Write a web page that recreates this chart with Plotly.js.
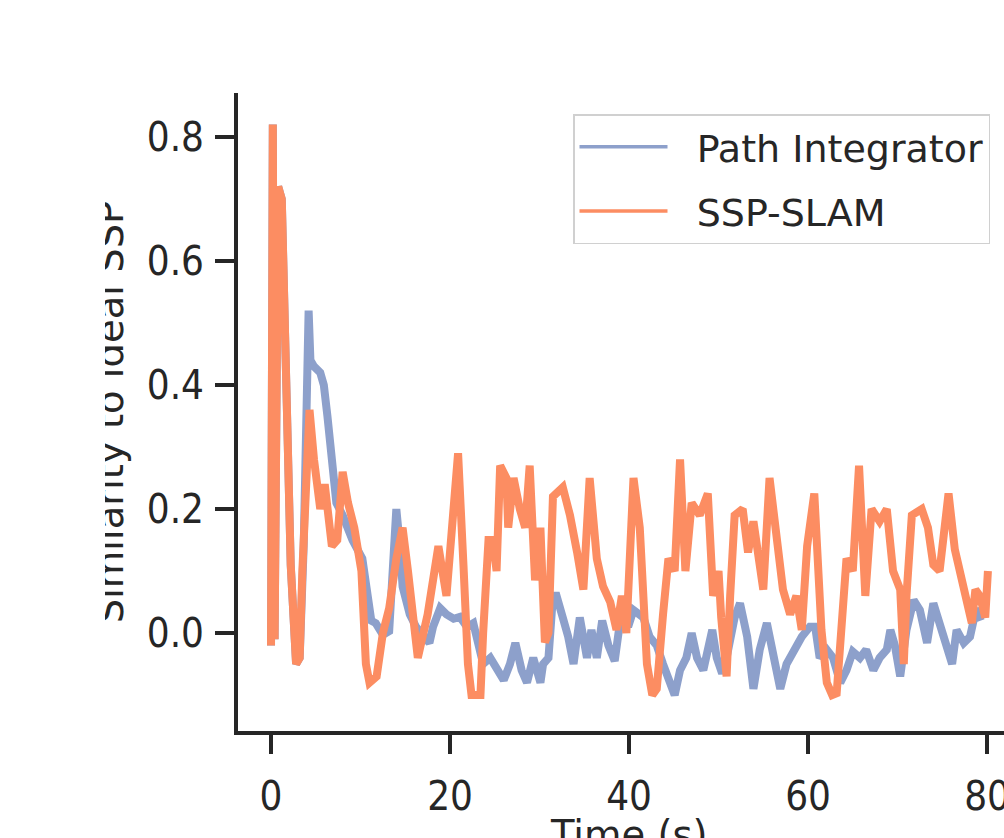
<!DOCTYPE html>
<html>
<head>
<meta charset="utf-8">
<script src="https://cdn.plot.ly/plotly-3.0.1.min.js"></script>
<style>
  html, body { margin: 0; padding: 0; width: 1004px; height: 838px; overflow: hidden; background: #ffffff; }
  #chart { position: absolute; left: 0; top: 0; clip-path: inset(0px 0px 0px 105px); }
</style>
</head>
<body>
<div id="chart"></div>
<script>
// ---- data ----
const seriesNames = ["Path Integrator", "SSP-SLAM"];

const piTime = [0.0,0.2,0.4,0.8,1.2,1.5,1.9,2.2,2.8,3.2,3.65,4.0,4.2,4.4,4.8,5.5,5.9,6.3,6.65,7.0,7.3,8.0,9.1,10.2,10.6,11.2,11.7,12.5,13.2,13.6,14.0,14.4,14.7,15.5,16.2,17.0,17.7,18.1,18.9,19.6,20.4,21.1,21.9,22.6,23.0,23.7,24.5,25.2,26.0,26.7,27.3,28.0,28.6,29.3,30.1,30.4,31.0,31.5,31.9,32.6,33.2,33.8,34.5,35.3,35.8,36.4,37.0,37.7,38.4,39.2,39.9,40.5,41.6,42.3,43.1,43.8,44.6,45.1,45.7,46.4,47.0,47.6,48.3,49.3,49.8,50.4,50.9,51.8,52.4,53.2,53.9,54.6,55.4,56.1,56.9,57.6,58.4,59.3,60.2,60.8,61.3,62.1,62.8,63.6,64.3,65.0,65.8,66.5,67.3,68.0,68.8,69.2,69.7,70.3,71.0,71.8,72.5,73.3,74.0,74.7,75.5,76.1,76.6,77.4,78.1,78.8,79.3];
const piValue = [-0.02,0.82,-0.01,0.72,0.70,0.50,0.28,0.11,-0.05,-0.04,0.14,0.45,0.52,0.44,0.43,0.42,0.40,0.35,0.30,0.25,0.21,0.19,0.15,0.12,0.075,0.02,0.016,-0.003,0.003,0.12,0.20,0.14,0.075,0.03,0.01,-0.003,-0.016,0.01,0.04,0.03,0.023,0.026,0.01,0.016,-0.006,-0.05,-0.04,-0.06,-0.076,-0.05,-0.016,-0.06,-0.08,-0.04,-0.08,-0.05,-0.04,0.06,0.06,0.025,-0.006,-0.05,0.025,-0.04,0.005,-0.04,0.02,-0.02,-0.045,0.04,0.01,0.037,0.025,-0.006,-0.02,-0.05,-0.08,-0.10,-0.06,-0.04,0.0,-0.04,-0.06,0.005,-0.04,-0.065,-0.04,0.025,0.048,-0.006,-0.09,-0.027,0.016,-0.04,-0.09,-0.05,-0.027,-0.006,0.01,0.01,-0.04,-0.027,-0.04,-0.08,-0.06,-0.03,-0.04,-0.027,-0.06,-0.04,-0.027,0.005,-0.02,-0.07,0.005,0.053,0.037,-0.016,0.048,0.016,-0.016,-0.05,0.005,-0.016,-0.006,0.04,0.02];

const slamTime = [0.0,0.2,0.4,0.8,1.2,1.5,1.9,2.2,2.8,3.2,3.5,4.0,4.3,4.8,5.5,6.0,6.8,7.4,8.0,8.6,9.3,10.1,10.6,11.0,11.8,12.5,13.2,14.0,14.7,15.3,16.4,17.5,18.7,19.6,20.2,20.9,21.5,22.0,22.4,23.4,23.7,24.3,24.8,25.2,25.6,26.3,26.5,27.1,27.8,28.4,28.9,29.5,30.1,30.6,31.0,31.5,32.6,33.4,34.2,34.9,35.6,36.4,37.1,37.9,38.6,39.2,39.7,40.5,41.2,41.6,42.0,42.6,43.1,43.8,44.4,45.1,45.7,46.3,47.0,47.9,48.8,49.4,50.0,50.3,50.9,51.3,51.8,52.7,53.3,53.9,54.6,55.0,55.7,56.5,57.2,58.0,58.7,59.3,59.9,60.7,61.1,61.5,62.1,62.7,63.2,63.8,64.3,65.0,65.7,66.4,67.1,68.0,68.8,69.5,70.3,70.7,71.0,71.6,72.7,73.4,74.0,74.7,75.7,76.4,77.2,77.7,78.3,78.7,79.2,79.8,80.1];
const slamValue = [-0.02,0.82,-0.01,0.72,0.70,0.50,0.28,0.11,-0.05,-0.04,0.10,0.30,0.36,0.28,0.20,0.24,0.14,0.15,0.26,0.21,0.17,0.10,-0.05,-0.08,-0.07,0.00,0.04,0.12,0.17,0.10,-0.04,0.03,0.14,0.06,0.18,0.29,0.11,-0.05,-0.10,-0.10,0.00,0.15,0.15,0.10,0.27,0.25,0.17,0.25,0.20,0.17,0.27,0.085,0.17,-0.015,0.00,0.22,0.235,0.19,0.13,0.07,0.25,0.12,0.075,0.05,0.005,0.06,0.00,0.25,0.17,0.06,-0.05,-0.10,-0.09,0.03,0.12,0.10,0.28,0.10,0.21,0.19,0.225,0.06,0.10,0.025,-0.07,0.06,0.19,0.20,0.13,0.18,0.10,0.07,0.25,0.14,0.07,0.03,0.06,0.005,0.14,0.225,0.11,0.005,-0.08,-0.10,-0.097,0.005,0.12,0.10,0.27,0.06,0.20,0.18,0.20,0.10,0.07,-0.05,0.06,0.19,0.20,0.17,0.11,0.10,0.225,0.135,0.09,0.06,0.016,0.07,0.06,0.025,0.10];

const xTickVals = [0, 20, 40, 60, 80];
const yTickVals = [0.0, 0.2, 0.4, 0.6, 0.8];
const xLabel = "Time (s)";
const yLabel = "Similarity to ideal SSP";

// ---- styling ----
const ink = "#262626";
const colors = ["#8da0cb", "#fc8d62"];
const tickFont = {family: "DejaVu Sans Condensed, DejaVu Sans, sans-serif", size: 40, color: ink};
const labelFont = {family: "DejaVu Sans, sans-serif", size: 38.5, color: ink};
const pad = "\u00a0\u00a0";

const traces = [
  // data lines
  {x: piTime, y: piValue, name: seriesNames[0], type: "scatter", mode: "lines",
   line: {color: colors[0], width: 8}, legendgroup: "a", showlegend: false},
  {x: slamTime, y: slamValue, name: seriesNames[1], type: "scatter", mode: "lines",
   line: {color: colors[1], width: 8}, legendgroup: "b", showlegend: false},
  // legend entries (thin line keys, no points)
  {x: [null], y: [null], name: pad + seriesNames[0], type: "scatter", mode: "lines",
   line: {color: colors[0], width: 3.5}, legendgroup: "a", showlegend: true},
  {x: [null], y: [null], name: pad + seriesNames[1], type: "scatter", mode: "lines",
   line: {color: colors[1], width: 3.5}, legendgroup: "b", showlegend: true}
];

const plotW = 800, ml = 238, mr = 20, mt = 93, plotH = 638, mb = 169;

const layout = {
  width: ml + plotW + mr,
  height: mt + plotH + mb,
  margin: {l: ml, r: mr, t: mt, b: mb, pad: 0},
  paper_bgcolor: "#ffffff",
  plot_bgcolor: "#ffffff",
  showlegend: true,
  legend: {
    x: (573 - ml) / plotW, xanchor: "left",
    y: (mt + plotH - 114) / plotH, yanchor: "top",
    bgcolor: "#ffffff", bordercolor: "#d0d0d0", borderwidth: 1.5,
    font: {family: "DejaVu Sans, sans-serif", size: 38, color: ink},
    itemwidth: 88, traceorder: "grouped", tracegroupgap: 12
  },
  xaxis: {
    range: [-3.69, -3.69 + plotW / 8.95],
    tickvals: xTickVals, ticks: "outside", ticklen: 19, tickwidth: 4, tickcolor: ink,
    showline: true, linewidth: 4, linecolor: ink, mirror: false,
    showgrid: false, zeroline: false, tickfont: tickFont, ticklabelstandoff: 8
  },
  yaxis: {
    range: [-0.158, 0.871],
    tickvals: yTickVals, tickformat: ".1f", ticks: "outside", ticklen: 19, tickwidth: 4, tickcolor: ink,
    showline: true, linewidth: 4, linecolor: ink, mirror: false,
    showgrid: false, zeroline: false, tickfont: tickFont, ticklabelstandoff: 3,
    title: {text: yLabel, font: labelFont, standoff: 12}
  },
  annotations: [
    {text: xLabel, xref: "paper", yref: "paper",
     x: (629 - ml) / plotW, xanchor: "center",
     y: -(810 - (mt + plotH)) / plotH, yanchor: "top",
     showarrow: false, font: labelFont}
  ]
};

Plotly.newPlot("chart", traces, layout, {staticPlot: true, displayModeBar: false});
</script>
</body>
</html>
